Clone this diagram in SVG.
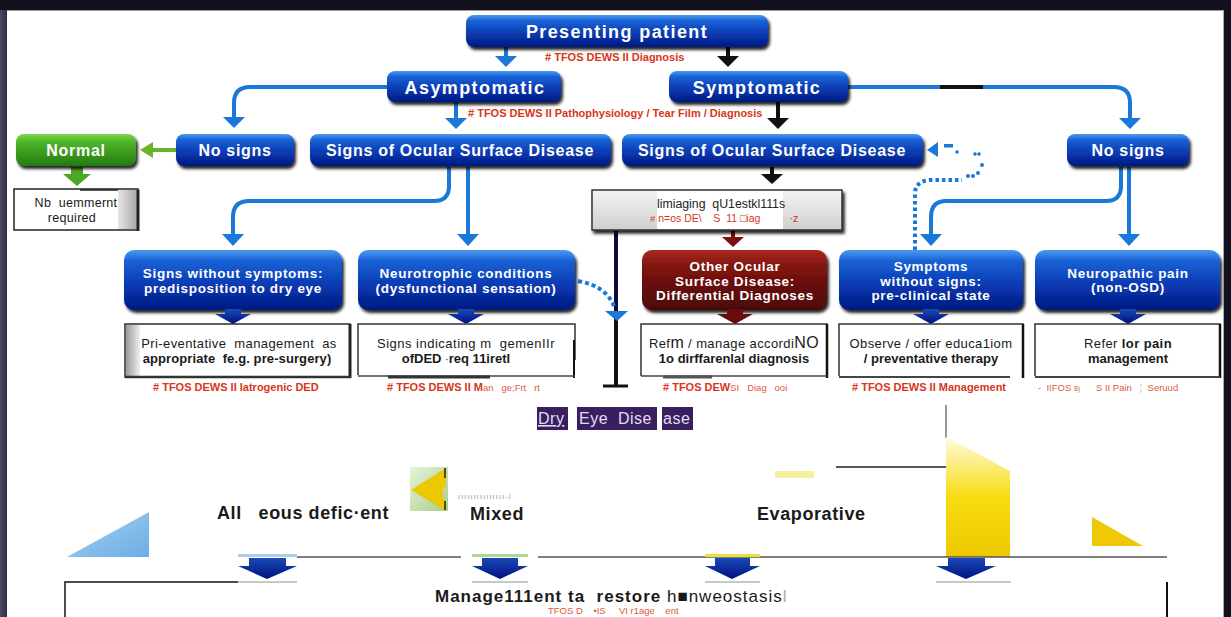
<svg xmlns="http://www.w3.org/2000/svg" width="1231" height="617" viewBox="0 0 1231 617">
<defs>
<linearGradient id="gBlue" x1="0" y1="0" x2="0" y2="1">
<stop offset="0" stop-color="#4a9af0"/><stop offset="0.18" stop-color="#1a62d6"/><stop offset="0.6" stop-color="#0838b0"/><stop offset="1" stop-color="#041a80"/>
</linearGradient>
<linearGradient id="gGreen" x1="0" y1="0" x2="0" y2="1">
<stop offset="0" stop-color="#7fd44a"/><stop offset="0.25" stop-color="#4fb52a"/><stop offset="1" stop-color="#237a10"/>
</linearGradient>
<linearGradient id="gRed" x1="0" y1="0" x2="0" y2="1">
<stop offset="0" stop-color="#a8281c"/><stop offset="0.3" stop-color="#7e1410"/><stop offset="1" stop-color="#4a0606"/>
</linearGradient>
<linearGradient id="gNavy" x1="0" y1="0" x2="0" y2="1">
<stop offset="0" stop-color="#1a4ab8"/><stop offset="1" stop-color="#001080"/>
</linearGradient>
<linearGradient id="gGrey" x1="0" y1="0" x2="1" y2="0">
<stop offset="0" stop-color="#e6e6e6"/><stop offset="1" stop-color="#a8a8a8"/>
</linearGradient>
<linearGradient id="gGreyL" x1="0" y1="0" x2="1" y2="0">
<stop offset="0" stop-color="#9a9a9a"/><stop offset="1" stop-color="#f0f0f0"/>
</linearGradient>
<linearGradient id="gImg" x1="0" y1="0" x2="0" y2="1">
<stop offset="0" stop-color="#f4f4f4"/><stop offset="1" stop-color="#cfcfcf"/>
</linearGradient>
<linearGradient id="gYel" x1="0" y1="0" x2="0" y2="1">
<stop offset="0" stop-color="#fffbe0"/><stop offset="0.5" stop-color="#f7dc10"/><stop offset="1" stop-color="#efc800"/>
</linearGradient>
<linearGradient id="gLB" x1="0" y1="0" x2="1" y2="1">
<stop offset="0" stop-color="#a8d0f0"/><stop offset="1" stop-color="#6aaee6"/>
</linearGradient>
<linearGradient id="gIcon" x1="0" y1="0" x2="1" y2="1">
<stop offset="0" stop-color="#e8f4d8"/><stop offset="1" stop-color="#a8cc90"/>
</linearGradient>
<linearGradient id="gFrame" x1="0" y1="0" x2="1" y2="0">
<stop offset="0" stop-color="#4a4a66"/><stop offset="1" stop-color="#2a2a40"/>
</linearGradient>
<filter id="sh" x="-10%" y="-20%" width="130%" height="150%">
<feDropShadow dx="2" dy="3" stdDeviation="1.5" flood-color="#000" flood-opacity="0.85"/>
</filter>
<style>
text{white-space:pre}
.nb{fill:url(#gBlue);filter:url(#sh)}
.ng{fill:url(#gGreen);filter:url(#sh)}
.nr{fill:url(#gRed);filter:url(#sh)}
.t{font-family:"Liberation Sans",Arial,sans-serif;fill:#fff;font-weight:bold;text-anchor:middle}
.t1{font-size:18px;letter-spacing:1.4px}
.t2{font-size:16px;letter-spacing:0.7px}
.t3{font-size:13.5px;letter-spacing:0.7px}
.tb{font-family:"Liberation Sans",Arial,sans-serif;fill:#1a1a1a;text-anchor:middle}
.red{font-family:"Liberation Sans",Arial,sans-serif;fill:#d8361a;font-weight:bold;font-size:11px}
.redl{font-family:"Liberation Sans",Arial,sans-serif;fill:#e05a40;font-size:9.5px}
.box{fill:#fff;stroke:#2a2a2a;stroke-width:1.5}
.bl{fill:none;stroke:#1a78d8;stroke-width:4}
.blh{fill:#1a78d8}
.bk{fill:none;stroke:#111;stroke-width:4}
.bkh{fill:#111}
.nv{fill:url(#gNavy)}
.dee{font-family:"Liberation Sans",Arial,sans-serif;fill:#e4dcf2;font-size:16px;letter-spacing:0.5px}
.big{font-family:"Liberation Sans",Arial,sans-serif;fill:#1a1a1a;font-weight:bold;font-size:18px;letter-spacing:0.6px}
</style>
</defs>

<!-- frame -->
<rect x="0" y="0" width="1231" height="617" fill="#12121e"/>
<rect x="0" y="10" width="8" height="607" fill="url(#gFrame)"/>
<rect x="7" y="10" width="1217" height="607" fill="#fff"/>
<line x1="7" y1="10.5" x2="1224" y2="10.5" stroke="#999" stroke-width="1"/>
<line x1="1223.5" y1="10" x2="1223.5" y2="617" stroke="#aaa" stroke-width="1"/>

<!-- connectors -->
<g id="connectors">
<line class="bl" x1="506" y1="47" x2="506" y2="57"/><polygon class="blh" points="495,56 517,56 506,67"/>
<line class="bk" x1="728" y1="47" x2="728" y2="57"/><polygon class="bkh" points="717,56 739,56 728,67"/>
<path class="bl" d="M388,87 H250 Q234,87 234,103 V118"/><polygon class="blh" points="223,117 245,117 234,128"/>
<line class="bl" x1="456" y1="102" x2="456" y2="119"/><polygon class="blh" points="445,118 467,118 456,129"/>
<line class="bk" x1="778" y1="102" x2="778" y2="119"/><polygon class="bkh" points="767,118 789,118 778,129"/>
<path class="bl" d="M848,87 H1114 Q1130,87 1130,103 V119"/><polygon class="blh" points="1119,118 1141,118 1130,129"/>
<line x1="940" y1="87" x2="983" y2="87" stroke="#111" stroke-width="4"/>
<line x1="176" y1="150" x2="152" y2="150" stroke="#6ab42a" stroke-width="4"/><polygon fill="#6ab42a" points="153,142 153,158 140,150"/>
<rect x="71" y="167" width="12" height="8" fill="#4aa822"/><polygon fill="#4aa822" points="63,174 91,174 77,186"/>
<path class="bl" d="M449,167 V186 Q449,201 434,201 H249 Q233,201 233,217 V235"/><polygon class="blh" points="222,234 244,234 233,246"/>
<line class="bl" x1="468" y1="167" x2="468" y2="235"/><polygon class="blh" points="457,234 479,234 468,246"/>
<line class="bk" x1="772" y1="167" x2="772" y2="175"/><polygon class="bkh" points="761,174 783,174 772,184"/>
<line x1="733" y1="230" x2="733" y2="238" stroke="#7a1010" stroke-width="4"/><polygon fill="#7a1010" points="722,237 744,237 733,247"/>
<line x1="616" y1="230" x2="616" y2="320" stroke="#0b0b3c" stroke-width="4"/>
<line x1="616" y1="318" x2="616" y2="386" stroke="#111" stroke-width="4"/>
<line x1="603" y1="386" x2="628" y2="386" stroke="#111" stroke-width="3"/>
<path d="M578,281 Q606,286 614,306" fill="none" stroke="#1a78d8" stroke-width="4" stroke-dasharray="4,3"/>
<polygon class="blh" points="605,311 628,311 617,321"/>
<path class="bl" d="M1121,167 V186 Q1121,201 1106,201 H946 Q931,201 931,217 V235"/><polygon class="blh" points="920,234 942,234 931,246"/>
<line class="bl" x1="1129" y1="167" x2="1129" y2="235"/><polygon class="blh" points="1118,234 1140,234 1129,246"/>
<path d="M915,250 V194 Q915,181 930,180 H962" fill="none" stroke="#1a78d8" stroke-width="4" stroke-dasharray="3.5,3"/>
<g fill="#1a78d8">
<circle cx="968" cy="176" r="2"/><circle cx="973" cy="176" r="2"/><circle cx="978" cy="173" r="2"/><circle cx="982" cy="165" r="2"/>
<circle cx="975" cy="154" r="1.8"/><circle cx="979" cy="154" r="1.8"/><circle cx="957" cy="152" r="1.8"/>
<rect x="944" y="144" width="9" height="3.5"/>
<polygon points="938,142 938,157 927,150"/>
</g>
</g>

<!-- nodes -->
<g id="n-presenting"><rect class="nb" x="466" y="15" width="302" height="32" rx="8"/><text class="t t1" x="617" y="38">Presenting patient</text></g>
<text class="red" x="545" y="61"># TFOS DEWS II Diagnosis</text>
<g id="n-asym"><rect class="nb" x="387" y="71" width="174" height="31" rx="8"/><text class="t t1" x="475" y="94">Asymptomatic</text></g>
<g id="n-sym"><rect class="nb" x="669" y="71" width="179" height="31" rx="8"/><text class="t t1" x="757" y="94">Symptomatic</text></g>
<text class="red" x="468" y="117"># TFOS DEWS II Pathophysiology / Tear Film / Diagnosis</text>

<g id="n-normal"><rect class="ng" x="16" y="134" width="120" height="32" rx="8"/><text class="t t2" x="76" y="156">Normal</text></g>
<g id="n-nosigns-l"><rect class="nb" x="176" y="134" width="118" height="32" rx="8"/><text class="t t2" x="235" y="156">No signs</text></g>
<g id="n-osd-l"><rect class="nb" x="310" y="134" width="301" height="32" rx="8"/><text class="t t2" x="460" y="156">Signs of Ocular Surface Disease</text></g>
<g id="n-osd-m"><rect class="nb" x="622" y="134" width="301" height="32" rx="8"/><text class="t t2" x="772" y="156">Signs of Ocular Surface Disease</text></g>
<g id="n-nosigns-r"><rect class="nb" x="1067" y="134" width="122" height="32" rx="8"/><text class="t t2" x="1128" y="156">No signs</text></g>

<g id="n-notreq">
<rect x="14" y="189" width="124" height="41" fill="#fff" stroke="#222" stroke-width="1.5"/>
<rect x="118" y="190" width="19" height="39" fill="url(#gGrey)"/>
<line x1="138" y1="190" x2="138" y2="231" stroke="#222" stroke-width="3"/>
<line x1="80" y1="190" x2="118" y2="190" stroke="#222" stroke-width="1.5"/>
<text class="tb" x="76" y="207" font-size="12.5" letter-spacing="0.3">Nb  uemmernt</text>
<text class="tb" x="72" y="222" font-size="12.5" letter-spacing="0.3">required</text>
</g>

<g id="n-imaging">
<rect x="592" y="190" width="250" height="40" fill="url(#gImg)" stroke="#333" stroke-width="1.5" filter="url(#sh)"/>
<rect x="657" y="191" width="126" height="38" fill="#fff"/>
<text x="657" y="208" font-family="Liberation Sans,Arial,sans-serif" font-size="12.3" fill="#222">limiaging  qU1estkl111s</text>
<text x="650" y="222" font-family="Liberation Sans,Arial,sans-serif" font-size="9.5" fill="#d8361a">#<tspan font-size="10.5"> n=os DE\    S  11 □iag          ·z</tspan></text>
</g>

<g id="n-swos"><rect class="nb" x="124" y="250" width="218" height="60" rx="10"/><text class="t t3" x="233" y="278">Signs without symptoms:</text><text class="t t3" x="233" y="293">predisposition to dry eye</text></g>
<g id="n-neuro"><rect class="nb" x="358" y="250" width="217" height="60" rx="10"/><text class="t t3" x="466" y="278">Neurotrophic conditions</text><text class="t t3" x="466" y="293">(dysfunctional sensation)</text></g>
<g id="n-other"><rect class="nr" x="642" y="250" width="185" height="60" rx="10"/><text class="t t3" x="735" y="271">Other Ocular</text><text class="t t3" x="735" y="286">Surface Disease:</text><text class="t t3" x="735" y="300">Differential Diagnoses</text></g>
<g id="n-swsig"><rect class="nb" x="839" y="250" width="184" height="60" rx="10"/><text class="t t3" x="931" y="271">Symptoms</text><text class="t t3" x="931" y="286">without signs:</text><text class="t t3" x="931" y="300">pre-clinical state</text></g>
<g id="n-neuropath"><rect class="nb" x="1035" y="250" width="185" height="60" rx="10"/><text class="t t3" x="1128" y="278">Neuropathic pain</text><text class="t t3" x="1128" y="292">(non-OSD)</text></g>

<!-- row3 to row4 arrows -->
<g id="row-arrows">
<polygon class="nv" points="225,309 241,309 241,314 251,314 233,324 215,314 225,314"/>
<polygon class="nv" points="458,309 474,309 474,314 484,314 466,324 448,314 458,314"/>
<polygon fill="#6a0c0c" points="727,309 743,309 743,314 753,314 735,324 717,314 727,314"/>
<polygon class="nv" points="923,309 939,309 939,314 949,314 931,324 913,314 923,314"/>
<polygon class="nv" points="1120,309 1136,309 1136,314 1146,314 1128,324 1110,314 1120,314"/>
</g>

<g id="b-prev">
<rect class="box" x="125" y="324" width="225" height="53"/>
<rect x="126" y="325" width="14" height="51" fill="url(#gGreyL)"/>
<line x1="350" y1="324" x2="350" y2="378" stroke="#222" stroke-width="3"/>
<line x1="125" y1="377" x2="351" y2="377" stroke="#333" stroke-width="2.5"/>
<text class="tb" x="239" y="348" font-size="13" letter-spacing="0.4">Pri-eventative  management  as</text>
<text class="tb" x="237" y="363" font-size="13" font-weight="bold" letter-spacing="0.1">appropriate  fe.g. pre-surgery)</text>
</g>
<text class="red" x="153" y="391"># TFOS DEWS II Iatrogenic DED</text>

<g id="b-signs">
<path d="M358,375 V324 H575 V360" fill="none" stroke="#333" stroke-width="1.5"/>
<line x1="574" y1="340" x2="574" y2="378" stroke="#111" stroke-width="2"/>
<line x1="358" y1="376" x2="575" y2="376" stroke="#444" stroke-width="1.5"/>
<line x1="388" y1="377" x2="490" y2="377" stroke="#333" stroke-width="3"/>
<text class="tb" x="466" y="348" font-size="13" letter-spacing="0.5">Signs indicating m  gemenIIr</text>
<text class="tb" x="456" y="363" font-size="13" font-weight="bold">ofDED <tspan font-weight="normal" font-size="11">·</tspan>req 11iretl</text>
</g>
<text x="387" y="391"><tspan class="red">#&#160;TFOS DEWS II M</tspan><tspan class="redl" font-size="9">an   ge;Frt   rt</tspan></text>

<g id="b-refer">
<path d="M641,376 V324 H827 V376" fill="none" stroke="#333" stroke-width="1.5"/>
<line x1="827" y1="324" x2="827" y2="378" stroke="#111" stroke-width="2.5"/>
<line x1="641" y1="376" x2="827" y2="376" stroke="#444" stroke-width="1.5"/>
<line x1="663" y1="377" x2="712" y2="377" stroke="#555" stroke-width="3"/>
<text class="tb" x="734" y="348" font-size="13" letter-spacing="0.4">Ref<tspan font-size="16">m</tspan> / manage accordi<tspan font-size="16">NO</tspan></text>
<text class="tb" x="734" y="363" font-size="13" font-weight="bold">1o dirffarenlal diagnosis</text>
</g>
<text x="663" y="391"><tspan class="red">#&#160;TFOS DEW</tspan><tspan class="redl" font-size="9">SI   Diag   ooi</tspan></text>

<g id="b-observe">
<path d="M839,376 V324 H1023 V376" fill="none" stroke="#333" stroke-width="1.5"/>
<line x1="1023" y1="324" x2="1023" y2="378" stroke="#111" stroke-width="2.5"/>
<line x1="839" y1="377" x2="1010" y2="377" stroke="#444" stroke-width="2"/>
<text class="tb" x="931" y="348" font-size="13" letter-spacing="0.4">Observe / offer educa1iom</text>
<text class="tb" x="931" y="363" font-size="13" font-weight="bold">/ preventative therapy</text>
</g>
<text class="red" x="852" y="391"># TFOS DEWS II Management</text>

<g id="b-pain">
<path d="M1035,376 V324 H1220 V376" fill="none" stroke="#333" stroke-width="1.5"/>
<line x1="1220" y1="324" x2="1220" y2="378" stroke="#111" stroke-width="2.5"/>
<line x1="1035" y1="377" x2="1220" y2="377" stroke="#444" stroke-width="2"/>
<text class="tb" x="1128" y="348" font-size="13" letter-spacing="0.4">Refer <tspan font-weight="bold">lor pain</tspan></text>
<text class="tb" x="1128" y="363" font-size="13" font-weight="bold">management</text>
</g>
<text class="redl" x="1038" y="391">-  I!FOS <tspan font-size="7">8)</tspan>      S II Pain   <tspan fill="#f0b0a0">¦</tspan>  Seruud</text>

<!-- Dry Eye Disease label -->
<g id="n-ded">
<rect x="537" y="407" width="31" height="23" fill="#3a1f60"/>
<rect x="577" y="407" width="80" height="23" fill="#3a1f60"/>
<rect x="662" y="407" width="31" height="23" fill="#3a1f60"/>
<text class="dee" x="538" y="424" text-decoration="underline">Dry</text>
<text class="dee" x="579" y="424" letter-spacing="0.2">Eye  Dise</text>
<text class="dee" x="663" y="424">ase</text>
</g>

<!-- bottom section -->
<g id="bottom">
<polygon points="67,557 149,512 149,557" fill="url(#gLB)"/>
<text class="big" x="217" y="519">All   eous defic·ent</text>
<rect x="410" y="467" width="38" height="44" fill="url(#gIcon)"/>
<polygon points="411,490 446,468 446,487 443,487 443,500 446,500 446,511" fill="#ecc800"/>
<line x1="445" y1="468" x2="445" y2="478" stroke="#222" stroke-width="1.5"/>
<line x1="445" y1="501" x2="445" y2="510" stroke="#222" stroke-width="1.5"/>
<text x="458" y="499" font-family="Liberation Sans,Arial,sans-serif" font-size="7" fill="#888" letter-spacing="1.2">ııııııııııııııı-/</text>
<text class="big" x="470" y="520">Mixed</text>
<rect x="775" y="471" width="39" height="7" fill="#f5f0a0"/>
<line x1="836" y1="467" x2="946" y2="467" stroke="#222" stroke-width="1.5"/>
<line x1="946" y1="405" x2="946" y2="438" stroke="#777" stroke-width="1.5"/>
<text class="big" x="757" y="520">Evaporative</text>
<polygon points="946,437 1010,471 1010,557 946,557" fill="url(#gYel)"/>
<polygon points="1092,517 1092,546 1143,546" fill="#f0c808"/>
<line x1="297" y1="557" x2="461" y2="557" stroke="#555" stroke-width="1.5"/>
<line x1="538" y1="557" x2="1167" y2="557" stroke="#555" stroke-width="1.5"/>
<rect x="238" y="554" width="59" height="3" fill="#a8d0e8"/>
<rect x="472" y="554" width="56" height="3" fill="#b0d890"/>
<rect x="705" y="554" width="55" height="3" fill="#e8e040"/>
<polygon class="nv" points="249,558 286,558 286,566 297,566 267,579 238,566 249,566"/>
<polygon class="nv" points="482,558 518,558 518,566 528,566 500,579 472,566 482,566"/>
<polygon class="nv" points="715,558 750,558 750,566 760,566 732,579 705,566 715,566"/>
<polygon class="nv" points="948,558 985,558 985,566 996,566 966,579 936,566 948,566"/>
<rect x="238" y="581" width="59" height="2" fill="#c8c8c8"/>
<rect x="472" y="581" width="56" height="2" fill="#c8c8c8"/>
<rect x="705" y="581" width="55" height="2" fill="#c8c8c8"/>
<rect x="936" y="581" width="75" height="2" fill="#c8c8c8"/>
<path d="M238,582 H65 V617" fill="none" stroke="#111" stroke-width="1.5"/>
<line x1="1167" y1="582" x2="1167" y2="617" stroke="#111" stroke-width="2"/>
<text x="435" y="602" font-family="Liberation Sans,Arial,sans-serif" font-size="17" fill="#1a1a1a" letter-spacing="1"><tspan font-weight="bold">Manage111ent ta  restore</tspan> h■nweostasis<tspan fill="#aaa">l</tspan></text>
<text class="redl" x="548" y="614">TFOS D    •IS     VI r1age    ent</text>
</g>
</svg>
